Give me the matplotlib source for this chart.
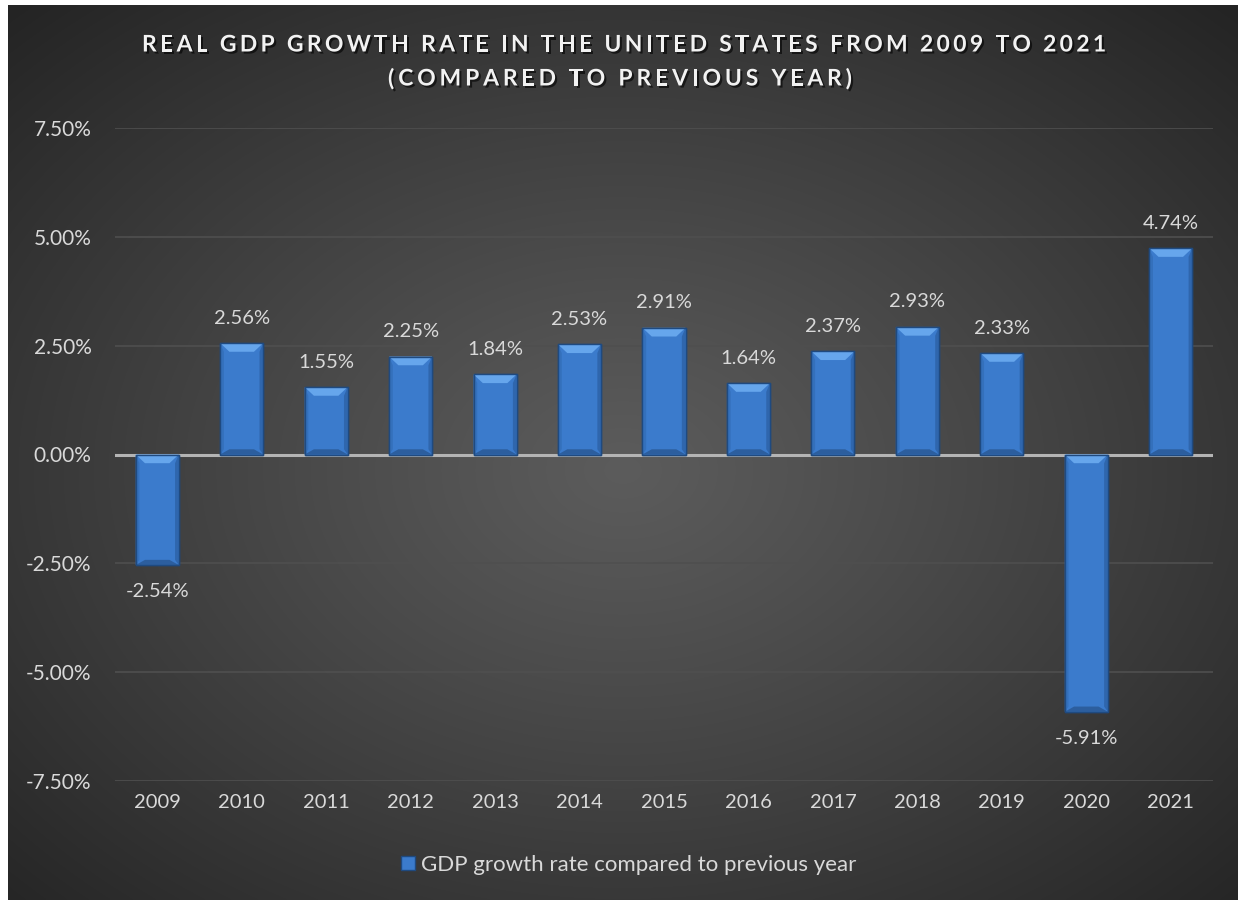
import numpy as np
import matplotlib
matplotlib.use("Agg")
import matplotlib.pyplot as plt
from matplotlib.patches import Polygon
import matplotlib.patheffects as pe

years = ['2009', '2010', '2011', '2012', '2013', '2014', '2015',
         '2016', '2017', '2018', '2019', '2020', '2021']
growth = [-2.54, 2.56, 1.55, 2.25, 1.84, 2.53, 2.91, 1.64, 2.37, 2.93, 2.33, -5.91, 4.74]
yticks = [-7.5, -5.0, -2.5, 0.0, 2.5, 5.0, 7.5]
title_lines = ["REAL GDP GROWTH RATE IN THE UNITED STATES FROM 2009 TO 2021",
               "(COMPARED TO PREVIOUS YEAR)"]
legend_label = "GDP growth rate compared to previous year"

W, H = 1238, 900
FONT = ['Lato', 'DejaVu Sans']
TXT = '#d9d9d9'

fig = plt.figure(figsize=(W / 100, H / 100), dpi=100)
fig.patch.set_facecolor('white')

# background panel with radial gradient
bg = fig.add_axes([8 / W, 0, 1 - 8 / W, 1 - 5 / H])
bg.set_axis_off()
yy, xx = np.mgrid[0:1:450j, 0:1:620j]
r = np.sqrt(((xx - 0.5) / 0.5) ** 2 + ((yy - 0.52) / 0.5) ** 2) / np.sqrt(2)
val = 0.36 - (0.36 - 0.145) * np.clip(r, 0, 1) ** 1.1
bg.imshow(np.dstack([val, val, val]), aspect='auto', extent=[0, 1, 0, 1],
          interpolation='bilinear')
bg.set_xlim(0, 1)
bg.set_ylim(0, 1)

# main axes
ax = fig.add_axes([115 / W, 1 - 781 / H, (1213 - 115) / W, (781 - 128) / H])
ax.set_facecolor('none')
ax.set_xlim(-0.5, len(years) - 0.5)
ax.set_ylim(yticks[0], yticks[-1])
for s in ax.spines.values():
    s.set_visible(False)
ax.set_yticks(yticks)
ax.set_yticklabels([f'{v:.2f}%' for v in yticks], fontfamily=FONT, fontsize=15, color=TXT)
ax.set_xticks(range(len(years)))
ax.set_xticklabels(years, fontfamily=FONT, fontsize=14.5, color=TXT)
ax.tick_params(axis='y', length=0, pad=17)
ax.tick_params(axis='x', length=0, pad=9)
ax.yaxis.grid(True, color='#4f4f4f', lw=1.2)
ax.set_axisbelow(True)
ax.axhline(0, color='#b4b4b4', lw=2.2, zorder=1.5)

bw = 0.51
bars = ax.bar(range(len(years)), growth, width=bw, color='#3b7bcc',
              edgecolor='#1f4a80', linewidth=1.0, zorder=2, label=legend_label)

# bevel decoration derived from data
by = 0.2
bx = 0.11
for i, v in enumerate(growth):
    x0, x1 = i - bw / 2, i + bw / 2
    top, bot = max(v, 0), min(v, 0)
    ax.add_patch(Polygon([(x0, top), (x1, top), (x1 - bx, top - by), (x0 + bx, top - by)],
                         closed=True, facecolor='#66a6ec', edgecolor='none', zorder=2.1))
    ax.add_patch(Polygon([(x0, bot), (x1, bot), (x1 - bx, bot + by * 0.6), (x0 + bx, bot + by * 0.6)],
                         closed=True, facecolor='#2c5e9e', edgecolor='none', zorder=2.1))
    ax.add_patch(Polygon([(x0, bot), (x0, top), (x0 + bx * 0.4, top - by), (x0 + bx * 0.4, bot + by * 0.6)],
                         closed=True, facecolor='#3470bb', edgecolor='none', zorder=2.1))
    ax.add_patch(Polygon([(x1, bot), (x1, top), (x1 - bx * 0.4, top - by), (x1 - bx * 0.4, bot + by * 0.6)],
                         closed=True, facecolor='#2f66ad', edgecolor='none', zorder=2.1))
    ax.add_patch(Polygon([(x0, bot), (x1, bot), (x1, top), (x0, top)], closed=True,
                         facecolor='none', edgecolor='#1f4a80', lw=1.0, zorder=2.2))
    off = 18 if v >= 0 else -19
    ax.annotate(f'{v:.2f}%', (i, v), xytext=(0, off), textcoords='offset points',
                ha='center', va='center', fontfamily=FONT, fontsize=14.5, color=TXT)

# legend
leg = fig.legend(loc='center', bbox_to_anchor=(629 / W, 1 - 865 / H), frameon=False,
                 handlelength=0.6, handleheight=0.6, handletextpad=0.3,
                 prop={'family': FONT, 'size': 16}, labelcolor=TXT)

# title with letter spacing
renderer = fig.canvas.get_renderer()
tkw = dict(fontfamily=FONT, fontsize=16.5, fontweight='bold', color='#f2f2f2')


def char_widths(s):
    ref = fig.text(0, 0, 'xx', **tkw)
    wref = ref.get_window_extent(renderer).width
    ref.remove()
    out = []
    for ch in s:
        t = fig.text(0, 0, 'x' + ch + 'x', **tkw)
        out.append(t.get_window_extent(renderer).width - wref)
        t.remove()
    return out


def spaced(s, x_left, x_right, yc):
    ws = char_widths(s)
    natural = sum(ws)
    gap = (x_right - x_left - natural) / max(len(s) - 1, 1)
    x = x_left
    for ch, w in zip(s, ws):
        if ch != ' ':
            fig.text(x / W, 1 - yc / H, ch, ha='left', va='center',
                     path_effects=[pe.withSimplePatchShadow(offset=(1.5, -1.5),
                                                            shadow_rgbFace='black', alpha=0.6)],
                     **tkw)
        x += w + gap


spaced(title_lines[0], 142, 1106, 45)
spaced(title_lines[1], 388, 852, 79)

fig.savefig('out.png', dpi=100, facecolor=fig.get_facecolor())
